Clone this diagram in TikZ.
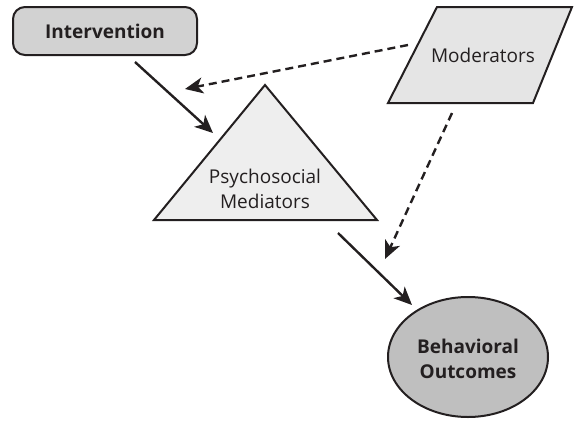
\documentclass[tikz,border=0pt]{standalone}
\usepackage{fontspec}
\setmainfont{Open Sans}
\usetikzlibrary{arrows.meta,shapes.geometric}
\definecolor{ink}{HTML}{231F20}
\tikzset{
  shapeline/.style={draw=ink, line width=2pt, line join=miter},
  lbl/.style={text=ink, font=\fontsize{19}{25}\selectfont, align=center, inner sep=0pt},
  solidarrow/.style={draw=ink, line width=2.4pt, -{Stealth[length=18pt,width=16pt,inset=5pt]}},
  dasharrow/.style={solidarrow, dash pattern=on 8pt off 5pt}
}
\begin{document}
\begin{tikzpicture}[x=1pt,y=-1pt]
\useasboundingbox (0,0) rectangle (574,429);
% Intervention
\node[shapeline, fill=gray!35!white, rounded corners=12pt, minimum width=184pt, minimum height=48pt, inner sep=0pt] (int) at (105,31) {};
\node[lbl, font=\fontsize{19}{25}\selectfont\bfseries] (intl) at (int.center) {Intervention};
% Moderators
\draw[shapeline, fill=gray!20!white] (437,7) -- (572,7) -- (533,103) -- (388,103) -- cycle;
\node[lbl] (mod) at (483,55) {Moderators};
% Triangle
\draw[shapeline, fill=gray!13!white] (265,85) -- (377,220) -- (154,220) -- cycle;
\node[lbl] (med) at (265,189) {Psychosocial\\Mediators};
% Ellipse
\node[shapeline, fill=gray!50!white, ellipse, minimum width=160pt, minimum height=120pt, inner sep=0pt] (out) at (468,357) {};
\node[lbl, font=\fontsize{19}{25}\selectfont\bfseries] (outl) at (468,359) {Behavioral\\Outcomes};
% connector endpoints
\coordinate (a1) at (135,62);  \coordinate (a2) at (213,133);
\coordinate (b1) at (408,45);  \coordinate (b2) at (185,89);
\coordinate (c1) at (452,113); \coordinate (c2) at (385,259);
\coordinate (d1) at (338,233); \coordinate (d2) at (412,305);
\draw[solidarrow] (a1) -- (a2);
\draw[dasharrow] (b1) -- (b2);
\draw[dasharrow] (c1) -- (c2);
\draw[solidarrow] (d1) -- (d2);
\end{tikzpicture}
\end{document}
